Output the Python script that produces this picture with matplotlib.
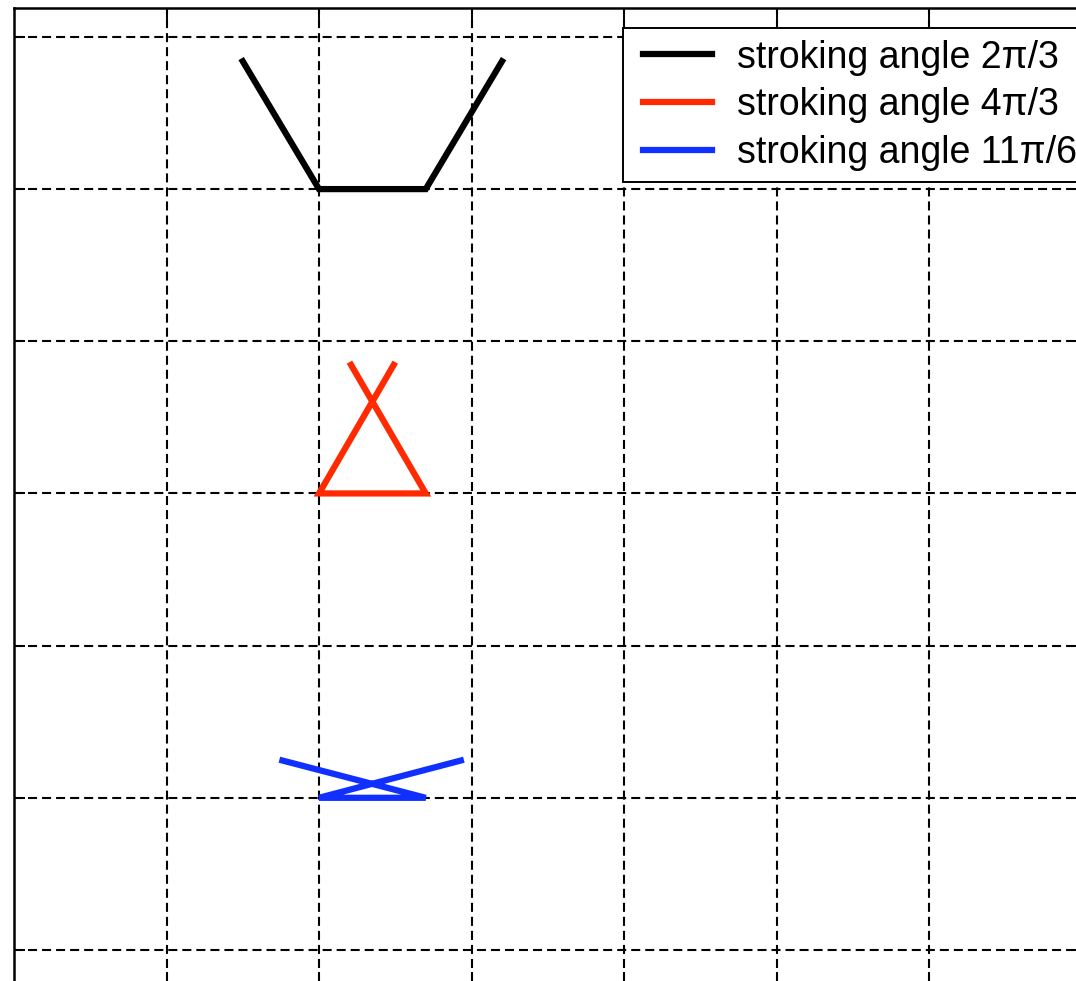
import numpy as np
import matplotlib
matplotlib.use("Agg")
import matplotlib.pyplot as plt
from matplotlib.lines import Line2D
from matplotlib.legend_handler import HandlerLine2D

plt.rcParams['font.family'] = ['Liberation Sans', 'DejaVu Sans']
plt.rcParams['lines.scale_dashes'] = False

# stroke paths for each stroking angle
x_black = [1.5, 2.0, 2.7, 3.2]
y_black = [5.84, 5.0, 5.0, 5.84]
x_red = [2.21, 2.7, 2.0, 2.49]
y_red = [3.845, 3.0, 3.0, 3.845]
x_blue = [1.76, 2.7, 2.0, 2.93]
y_blue = [1.245, 1.0, 1.0, 1.245]

labels = ['stroking angle 2\u03c0/3', 'stroking angle 4\u03c0/3',
          'stroking angle 11\u03c0/6']

W, H = 1076, 981
fig = plt.figure(figsize=(W / 100, H / 100), dpi=100)
left, right, top, bottom = 14, 1081.5, 8, 983
ax = fig.add_axes([left / W, 1 - bottom / H, (right - left) / W, (bottom - top) / H])

lw = 4.5
ax.plot(x_black, y_black, color='black', lw=lw, label=labels[0], solid_joinstyle='miter')
ax.plot(x_red, y_red, color='#ff2a00', lw=lw, label=labels[1], solid_joinstyle='miter')
ax.plot(x_blue, y_blue, color='#1030ff', lw=lw, label=labels[2], solid_joinstyle='miter')

ax.set_xlim(0, 7)
ax.set_ylim(-0.217, 6.19)
ax.set_xticks(np.arange(1, 7))
ax.set_yticks(np.arange(0, 7))
ax.set_xticklabels([])
ax.set_yticklabels([])
ax.tick_params(direction='in', length=8, width=1.4, top=True, right=True,
               color='black')
ax.grid(True, color='black', lw=1.5, linestyle=(0, (6.5, 3.6)))
for s in ax.spines.values():
    s.set_linewidth(1.8)

leg = ax.legend(loc='upper left', bbox_to_anchor=(0.5705, 0.9795),
                borderaxespad=0, fontsize=27, fancybox=False, framealpha=1,
                edgecolor='black', handlelength=2.29, handletextpad=0.44,
                borderpad=0.31, labelspacing=0.31,
                handler_map={Line2D: HandlerLine2D(numpoints=2, marker_pad=0.224)})
leg.get_frame().set_linewidth(1.4)

fig.savefig('out.png', dpi=100)
